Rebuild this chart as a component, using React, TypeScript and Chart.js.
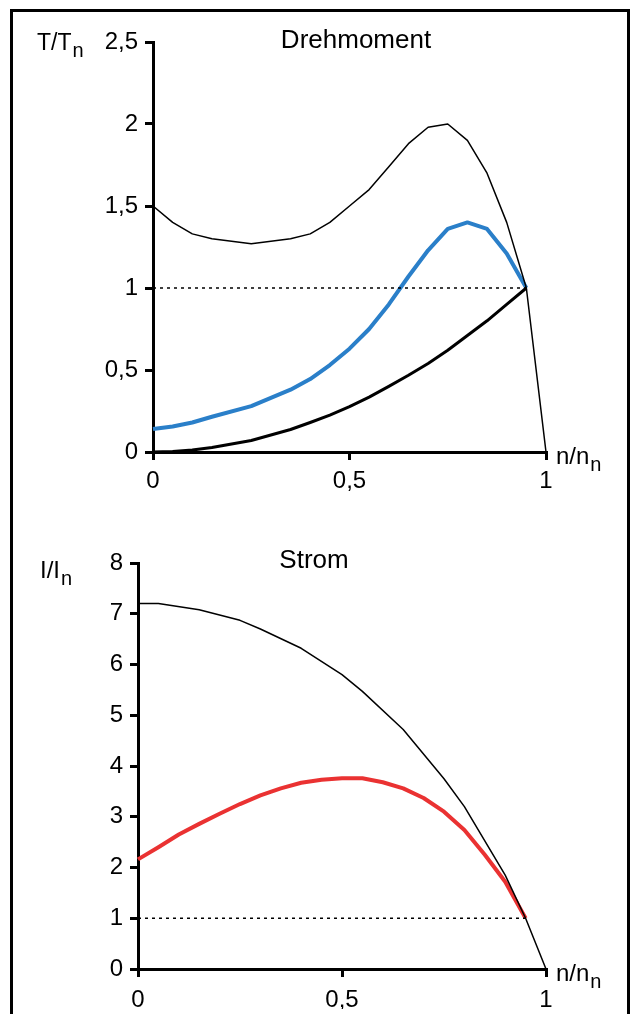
import React, { useEffect, useRef } from "react";
import { Chart, registerables } from "chart.js";

Chart.register(...registerables);

// ---- Data: Drehmoment (torque) ----
const nTorqueMax = [0, 0.05, 0.1, 0.15, 0.25, 0.35, 0.4, 0.45, 0.5, 0.55, 0.6, 0.65, 0.7, 0.75, 0.8, 0.85, 0.9, 0.95, 1];
const torqueMax = [1.5, 1.4, 1.33, 1.3, 1.27, 1.3, 1.33, 1.4, 1.5, 1.6, 1.74, 1.88, 1.98, 2.0, 1.9, 1.7, 1.4, 1.0, 0];

const nTorqueMotor = [0, 0.05, 0.1, 0.15, 0.25, 0.35, 0.4, 0.45, 0.5, 0.55, 0.6, 0.65, 0.7, 0.75, 0.8, 0.85, 0.9, 0.95];
const torqueMotor = [0.14, 0.155, 0.18, 0.215, 0.28, 0.38, 0.445, 0.53, 0.63, 0.75, 0.9, 1.07, 1.23, 1.36, 1.4, 1.36, 1.21, 1.0];

const nTorqueLoad = [0, 0.05, 0.1, 0.15, 0.25, 0.35, 0.4, 0.45, 0.5, 0.55, 0.6, 0.65, 0.7, 0.75, 0.8, 0.85, 0.9, 0.95];
const torqueLoad = [0, 0.003, 0.012, 0.027, 0.07, 0.137, 0.18, 0.225, 0.277, 0.335, 0.4, 0.468, 0.54, 0.62, 0.71, 0.8, 0.9, 1.0];

// ---- Data: Strom (current) ----
const nCurrentMax = [0, 0.05, 0.15, 0.25, 0.3, 0.4, 0.5, 0.55, 0.65, 0.75, 0.8, 0.9, 0.95, 1];
const currentMax = [7.2, 7.2, 7.08, 6.87, 6.7, 6.32, 5.8, 5.47, 4.72, 3.75, 3.2, 1.85, 1.0, 0];

const nCurrentMotor = [0, 0.05, 0.1, 0.15, 0.2, 0.25, 0.3, 0.35, 0.4, 0.45, 0.5, 0.55, 0.6, 0.65, 0.7, 0.75, 0.8, 0.85, 0.9, 0.95];
const currentMotor = [2.16, 2.4, 2.65, 2.86, 3.06, 3.25, 3.42, 3.56, 3.67, 3.73, 3.76, 3.76, 3.68, 3.56, 3.37, 3.1, 2.74, 2.25, 1.72, 1.0];

// Nominal reference line (value 1 up to nominal speed)
const nNominal = [0, 0.95];
const nominalLevel = [1, 1];

const xTicks = [0, 0.5, 1];
const torqueTicks = [0, 0.5, 1, 1.5, 2, 2.5];
const currentTicks = [0, 1, 2, 3, 4, 5, 6, 7, 8];

const FONT = "'Liberation Sans', Arial, Helvetica, sans-serif";

const pts = (xs: number[], ys: number[]) => xs.map((x, i) => ({ x, y: ys[i] }));
const fmt = (v: number) => String(v).replace(".", ",");

const textPlugin = {
  id: "annot",
  afterDraw(chart: any, _args: any, opts: any) {
    const ctx = chart.ctx;
    ctx.save();
    ctx.fillStyle = "#000";
    ctx.textBaseline = "alphabetic";
    for (const t of opts.items || []) {
      ctx.font = `${t.size}px ${FONT}`;
      if (t.center) {
        ctx.textAlign = "center";
        ctx.fillText(t.text, t.x, t.y);
        continue;
      }
      ctx.textAlign = "left";
      ctx.fillText(t.text, t.x, t.y);
      if (t.sub) {
        const w = ctx.measureText(t.text).width;
        ctx.font = `${t.subSize}px ${FONT}`;
        ctx.fillText(t.sub, t.x + w + 1, t.y + t.subDy);
      }
    }
    ctx.restore();
  },
};

function makeScales(opts: any) {
  const tickFont = { family: FONT, size: 24 };
  return {
    x: {
      type: "linear",
      min: 0,
      max: 1,
      afterFit: (s: any) => {
        s.height = opts.xHeight;
      },
      afterBuildTicks: (s: any) => {
        s.ticks = xTicks.map((v) => ({ value: v }));
      },
      border: { display: true, color: "#000", width: 3 },
      grid: { drawOnChartArea: false, drawTicks: true, tickLength: 8, color: "#000", lineWidth: 3 },
      ticks: { color: "#000", font: tickFont, padding: opts.xPad, maxRotation: 0, callback: (v: any) => fmt(v) },
    },
    y: {
      type: "linear",
      min: 0,
      max: opts.yMax,
      afterFit: (s: any) => {
        s.width = opts.yWidth;
      },
      afterBuildTicks: (s: any) => {
        s.ticks = opts.yTicks.map((v: number) => ({ value: v }));
      },
      border: { display: true, color: "#000", width: 3 },
      grid: { drawOnChartArea: false, drawTicks: true, tickLength: 8, color: "#000", lineWidth: 3 },
      ticks: { color: "#000", font: tickFont, padding: 7, callback: (v: any) => fmt(v) },
    },
  };
}

function lineDs(data: any[], color: string, width: number, dash?: number[]) {
  return {
    data,
    borderColor: color,
    borderWidth: width,
    borderDash: dash || [],
    pointRadius: 0,
    tension: 0,
    fill: false,
    clip: false,
    borderJoinStyle: "round",
  };
}

function useChart(ref: React.RefObject<HTMLCanvasElement | null>, build: () => any) {
  useEffect(() => {
    if (!ref.current) return;
    const chart = new Chart(ref.current, build());
    return () => chart.destroy();
  }, []);
}

export default function App() {
  const topRef = useRef<HTMLCanvasElement | null>(null);
  const botRef = useRef<HTMLCanvasElement | null>(null);

  useEffect(() => {
    document.documentElement.style.overflow = "hidden";
    document.body.style.overflow = "hidden";
  }, []);

  useChart(topRef, () => ({
    type: "line",
    data: {
      datasets: [
        lineDs(pts(nNominal, nominalLevel), "#000", 1.5, [3, 4]),
        lineDs(pts(nTorqueMax, torqueMax), "#000", 1.5),
        lineDs(pts(nTorqueLoad, torqueLoad), "#000", 3),
        lineDs(pts(nTorqueMotor, torqueMotor), "#2a7fc9", 4),
      ],
    },
    options: {
      responsive: false,
      animation: false,
      devicePixelRatio: 1,
      layout: { padding: { left: 0, top: 29, right: 80, bottom: 18 } },
      scales: makeScales({ yMax: 2.5, yTicks: torqueTicks, yWidth: 139, xHeight: 40, xPad: 7 }),
      plugins: {
        legend: { display: false },
        tooltip: { enabled: false },
        annot: {
          items: [
            { text: "T/T", sub: "n", x: 23, y: 37, size: 23, subSize: 20, subDy: 7 },
            { text: "Drehmoment", x: 342, y: 35, size: 26, center: true },
            { text: "n/n", sub: "n", x: 542, y: 451, size: 24, subSize: 20, subDy: 7 },
          ],
        },
      },
    },
    plugins: [textPlugin],
  }));

  useChart(botRef, () => ({
    type: "line",
    data: {
      datasets: [
        lineDs(pts(nNominal, nominalLevel), "#000", 1.5, [3, 4]),
        lineDs(pts(nCurrentMax, currentMax), "#000", 1.5),
        lineDs(pts(nCurrentMotor, currentMotor), "#ea3232", 4),
      ],
    },
    options: {
      responsive: false,
      animation: false,
      devicePixelRatio: 1,
      layout: { padding: { left: 0, top: 53, right: 80, bottom: 5 } },
      scales: makeScales({ yMax: 8, yTicks: currentTicks, yWidth: 124, xHeight: 40, xPad: 9 }),
      plugins: {
        legend: { display: false },
        tooltip: { enabled: false },
        annot: {
          items: [
            { text: "I/I", sub: "n", x: 26, y: 68, size: 24, subSize: 20, subDy: 7 },
            { text: "Strom", x: 300, y: 58, size: 26, center: true },
            { text: "n/n", sub: "n", x: 542, y: 471, size: 24, subSize: 20, subDy: 7 },
          ],
        },
      },
    },
    plugins: [textPlugin],
  }));

  return (
    <div>
      <div
        style={{
          position: "fixed",
          left: 10,
          top: 9,
          width: 620,
          height: 1100,
          border: "3px solid #000",
          boxSizing: "border-box",
        }}
      />
      <canvas
        ref={topRef}
        width={612}
        height={497}
        style={{ position: "fixed", left: 14, top: 13, width: 612, height: 497 }}
      />
      <canvas
        ref={botRef}
        width={612}
        height={504}
        style={{ position: "fixed", left: 14, top: 510, width: 612, height: 504 }}
      />
    </div>
  );
}
